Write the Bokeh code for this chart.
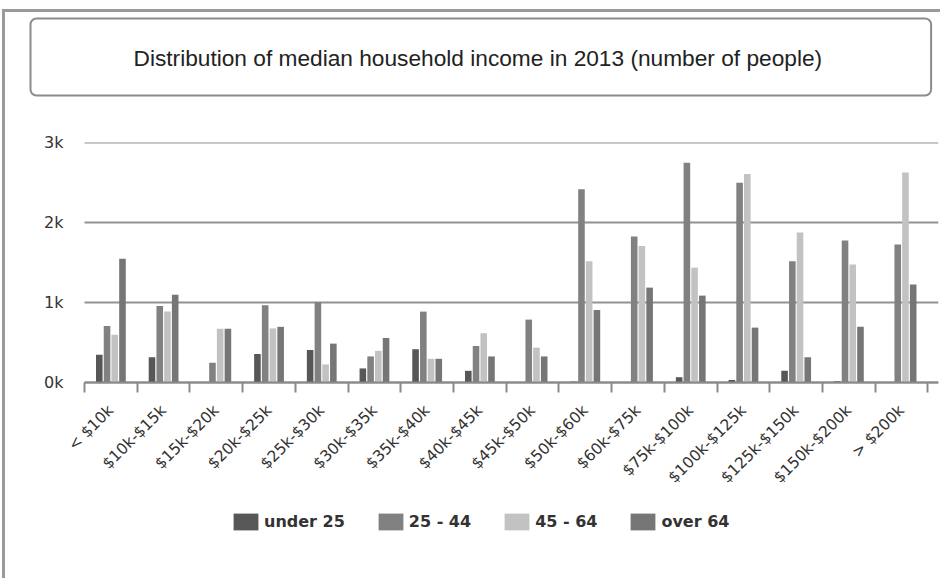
import math

from bokeh.embed import file_html
from bokeh.models import (ColumnDataSource, FixedTicker, Legend, LegendItem,
                          Range1d, Title)
from bokeh.plotting import figure
from bokeh.resources import INLINE
from bokeh.transform import dodge

# Income brackets (x categories)
income_brackets = [
    "< $10k", "$10k-$15k", "$15k-$20k", "$20k-$25k", "$25k-$30k",
    "$30k-$35k", "$35k-$40k", "$40k-$45k", "$45k-$50k", "$50k-$60k",
    "$60k-$75k", "$75k-$100k", "$100k-$125k", "$125k-$150k",
    "$150k-$200k", "> $200k",
]

# Number of people per age group of the householder
under_25 = [350, 320, 0, 360, 410, 180, 420, 150, 0, 15, 0, 70, 35, 150, 20, 0]
age_25_44 = [710, 960, 250, 970, 1010, 330, 890, 460, 790, 2420, 1830, 2750,
             2500, 1520, 1780, 1730]
age_45_64 = [600, 890, 675, 680, 230, 400, 300, 620, 440, 1520, 1710, 1440,
             2610, 1880, 1480, 2630]
over_64 = [1550, 1100, 675, 700, 490, 560, 300, 330, 330, 910, 1190, 1090,
           690, 320, 700, 1230]

series_names = ["under 25", "25 - 44", "45 - 64", "over 64"]
series_cols = ["under_25", "age_25_44", "age_45_64", "over_64"]
series_colors = ["#575757", "#818181", "#c2c2c2", "#767676"]

y_ticks = [0, 1000, 2000, 3000]
y_tick_labels = ["0k", "1k", "2k", "3k"]

title_text = "Distribution of median household income in 2013 (number of people)"

n = len(income_brackets)
centers = [i + 0.5 for i in range(n)]
x_end = 16.2

source = ColumnDataSource(dict(
    x=centers,
    under_25=under_25,
    age_25_44=age_25_44,
    age_45_64=age_45_64,
    over_64=over_64,
))

# The plot area runs down to the bottom of the page (and a little left of the
# first bracket) so that the rotated bracket labels and the legend sit inside
# it, below the zero line.
p = figure(
    frame_width=874, frame_height=434,
    output_backend="svg", toolbar_location=None,
    x_range=Range1d(-0.38, x_end), y_range=Range1d(-2421, 3004),
    min_border_left=64, min_border_right=2,
    min_border_top=142, min_border_bottom=2,
    background_fill_color="white", border_fill_alpha=0,
    outline_line_color=None,
)
p.title = None
# grey frame lines along the left and top of the chart
p.styles = {
    "background": (
        "linear-gradient(#9a9a9a, #9a9a9a) 2px 9px / 3px 569px no-repeat, "
        "linear-gradient(#9a9a9a, #9a9a9a) 2px 9px / 938px 3px no-repeat, "
        "white"
    ),
}

# Blank band between the title box and the plot area
p.add_layout(Title(text=" ", text_font_size="1px", standoff=44), "above")

# Boxed chart title
p.add_layout(Title(
    text=title_text, align="left", offset=-34, standoff=0,
    text_font="Liberation Sans", text_font_size="22.7px",
    text_font_style="normal", text_color="#222222",
    border_line_color="#8c8c8c", border_line_width=2,
    background_fill_color="white",
    padding=dict(left=103, right=109, top=26, bottom=25),
    border_radius=6,
), "above")

# Grouped columns
offsets = [-0.22, -0.073, 0.073, 0.22]
renderers = []
for col, off, color in zip(series_cols, offsets, series_colors):
    r = p.vbar(x=dodge("x", off), top=col, width=0.125, source=source,
               fill_color=color, line_color=None)
    renderers.append(r)

# x axis pinned at zero: labels at bracket centres, ticks on bracket bounds
xa = p.xaxis[0]
xa.fixed_location = 0
xa.bounds = (0, x_end)
xa.ticker = FixedTicker(ticks=centers, minor_ticks=list(range(n + 1)))
xa.major_label_overrides = {c: lab for c, lab in zip(centers, income_brackets)}
xa.major_label_orientation = math.pi / 4
xa.major_tick_out = 0
xa.major_tick_in = 0
xa.minor_tick_out = 10
xa.minor_tick_in = 0
xa.minor_tick_line_color = "#8a8a8a"
xa.minor_tick_line_width = 2
xa.axis_line_color = "#8a8a8a"
xa.axis_line_width = 2
xa.major_label_text_font = "DejaVu Sans"
xa.major_label_text_font_size = "15.5px"
xa.major_label_text_color = "#333333"
xa.major_label_standoff = 15

# y axis: "0k".."3k", no line or ticks
ya = p.yaxis[0]
ya.ticker = FixedTicker(ticks=y_ticks)
ya.major_label_overrides = {t: lab for t, lab in zip(y_ticks, y_tick_labels)}
ya.axis_line_color = None
ya.major_tick_line_color = None
ya.minor_tick_line_color = None
ya.major_tick_out = 0
ya.major_tick_in = 0
ya.minor_tick_out = 0
ya.major_label_text_font = "DejaVu Sans"
ya.major_label_text_font_size = "16px"
ya.major_label_text_color = "#333333"
ya.major_label_standoff = 1

p.xgrid.grid_line_color = None
yg = p.ygrid[0]
yg.ticker = FixedTicker(ticks=y_ticks)
yg.grid_line_color = "#929292"
yg.grid_line_width = 2
if "cross_bounds" in yg.properties():
    yg.cross_bounds = (0, x_end)

# Legend under the bracket labels (position in px from the plot's lower left)
legend = Legend(
    items=[LegendItem(label=name, renderers=[r])
           for name, r in zip(series_names, renderers)],
    orientation="horizontal", location=(166, 44),
    label_text_font="DejaVu Sans", label_text_font_size="16px",
    label_text_font_style="bold", label_text_color="#333333",
    glyph_width=31, glyph_height=21, spacing=30, label_standoff=3,
    border_line_color=None, background_fill_alpha=0,
    padding=4, margin=0,
)
p.add_layout(legend)

open("out.html", "w").write(file_html(p, INLINE))
